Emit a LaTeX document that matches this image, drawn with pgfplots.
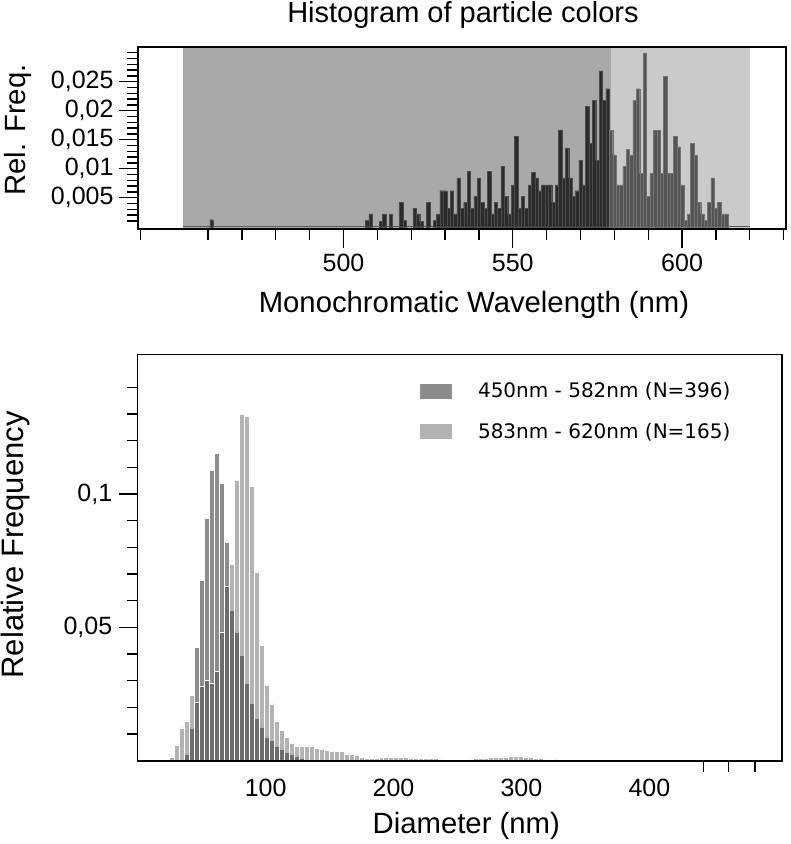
\documentclass[border=0pt]{standalone}
\usepackage{fontspec}
\setmainfont{Liberation Sans}
\newfontfamily\legfont{DejaVu Sans}
\usepackage{pgfplots}
\usepackage{pgfplotstable}
\pgfplotsset{compat=1.18}
\definecolor{bgdark}{HTML}{A9A9A9}
\definecolor{bglight}{HTML}{CACACA}
\definecolor{bardark}{HTML}{2B2B2B}
\definecolor{barlight}{HTML}{555555}

\pgfplotstableread{
nm v
461 0.0012
507 0.0011
508 0.0022
511 0.0009
512 0.0022
514 0.0022
517 0.0042
518 0.0011
521 0.0032
522 0.0022
523 0.0009
525 0.0042
527 0.0011
528 0.0022
529 0.0062
530 0.0062
531 0.0032
532 0.0062
533 0.0022
534 0.0084
535 0.0032
536 0.0042
537 0.0095
538 0.0032
539 0.0052
540 0.0084
541 0.0042
542 0.0032
543 0.0095
544 0.0022
545 0.0042
546 0.0032
547 0.0104
548 0.0052
549 0.0022
550 0.0072
551 0.0156
552 0.0032
553 0.0052
554 0.0032
555 0.0072
556 0.0094
557 0.0084
558 0.0062
559 0.0072
560 0.0072
561 0.0072
562 0.0042
563 0.0072
564 0.0167
565 0.0084
566 0.0136
567 0.0084
568 0.0052
569 0.0062
570 0.0114
571 0.0072
572 0.0208
573 0.0144
574 0.0218
575 0.0114
576 0.0269
577 0.0218
578 0.0238
}\topdark

\pgfplotstableread{
nm v
579 0.0166
580 0.0124
581 0.0072
582 0.0072
583 0.0104
584 0.0134
585 0.0124
586 0.0218
587 0.0238
588 0.0092
589 0.0300
590 0.0052
591 0.0092
592 0.0166
593 0.0166
594 0.0092
595 0.0259
596 0.0092
597 0.0092
598 0.0156
599 0.0138
600 0.0072
601 0.0011
602 0.0022
603 0.0144
604 0.0124
605 0.0042
606 0.0022
607 0.0011
608 0.0042
609 0.0084
610 0.0032
611 0.0042
612 0.0022
613 0.0022
}\toplight

% bottom: A = 450-582 nm, B = 583-620 nm
\pgfplotstableread{
d A B
26.6 0.0000 0.0015
30.5 0.0000 0.0060
34.4 0.0000 0.0123
38.3 0.0026 0.0150
42.2 0.0121 0.0245
46.1 0.0425 0.0221
50.0 0.0677 0.0281
53.9 0.0908 0.0302
57.8 0.1090 0.0290
61.7 0.1152 0.0334
65.6 0.1040 0.0483
69.5 0.0818 0.0656
73.4 0.0565 0.0737
77.3 0.0483 0.1050
81.2 0.0396 0.1300
85.1 0.0290 0.1290
89.0 0.0215 0.1030
92.9 0.0160 0.0708
96.8 0.0127 0.0432
100.7 0.0090 0.0282
104.6 0.0076 0.0213
108.5 0.0054 0.0150
112.4 0.0045 0.0114
116.3 0.0032 0.0088
120.2 0.0026 0.0064
124.1 0.0016 0.0056
128.0 0.0010 0.0056
131.9 0.0005 0.0056
135.8 0.0003 0.0056
139.7 0.0002 0.0047
143.6 0.0000 0.0045
147.5 0.0000 0.0040
151.4 0.0000 0.0035
155.3 0.0000 0.0035
159.2 0.0000 0.0035
163.1 0.0000 0.0026
167.0 0.0000 0.0026
170.9 0.0000 0.0022
174.8 0.0000 0.0012
178.7 0.0000 0.0010
182.6 0.0000 0.0010
186.5 0.0000 0.0010
190.4 0.0000 0.0012
194.3 0.0000 0.0012
198.2 0.0000 0.0013
202.1 0.0000 0.0013
206.0 0.0000 0.0012
209.9 0.0000 0.0012
213.8 0.0000 0.0011
217.7 0.0000 0.0010
221.6 0.0000 0.0009
225.5 0.0000 0.0009
229.4 0.0000 0.0008
233.3 0.0000 0.0008
237.2 0.0000 0.0007
241.1 0.0000 0.0006
245.0 0.0000 0.0005
248.9 0.0000 0.0005
252.8 0.0000 0.0005
256.7 0.0000 0.0006
260.6 0.0000 0.0007
264.5 0.0000 0.0008
268.4 0.0000 0.0010
272.3 0.0000 0.0011
276.2 0.0000 0.0012
280.1 0.0000 0.0013
284.0 0.0000 0.0014
287.9 0.0000 0.0015
291.8 0.0000 0.0016
295.7 0.0000 0.0016
299.6 0.0000 0.0016
303.5 0.0000 0.0015
307.4 0.0000 0.0013
311.3 0.0000 0.0011
315.2 0.0000 0.0009
319.1 0.0000 0.0007
323.0 0.0000 0.0005
326.9 0.0000 0.0003
330.8 0.0000 0.0002
}\bottomdata

\pgfplotsset{
  myax/.style={
    scale only axis,
    axis line style={line width=1.4bp},
    every tick/.style={line width=1.4bp, black},
    tick align=outside, tick pos=left,
    ticklabel style={font=\fontsize{25bp}{30bp}\selectfont},
    label style={font=\fontsize{29.3bp}{34bp}\selectfont},
    scaled ticks=false,
  }
}

\begin{document}
\begin{tikzpicture}
\path[use as bounding box] (0bp,0bp) rectangle (791bp,844bp);
% ---------------- top ----------------
\begin{axis}[myax,
  at={(138bp,615bp)}, anchor=south west,
  width=648bp, height=182bp,
  major tick length=19bp, minor tick length=11bp,
  xmin=439.3, xmax=630.7, ymin=-0.0004, ymax=0.031,
  xtick={500,550,600}, xticklabels={500,550,600},
  xticklabel shift=3bp,
  yticklabel shift=2bp,
  minor xtick={440,460,470,480,490,510,520,530,540,560,570,580,590,610,620,630},
  ytick={0.005,0.01,0.015,0.02,0.025},
  yticklabels={{0,005},{0,01},{0,015},{0,02},{0,025}},
  minor ytick={0.001,0.002,0.003,0.004,0.006,0.007,0.008,0.009,0.011,0.012,0.013,0.014,0.016,0.017,0.018,0.019,0.021,0.022,0.023,0.024,0.026,0.027,0.028,0.029,0.030},
  title={Histogram of particle colors},
  title style={at={(axis description cs:0.5015,1.10)}, anchor=base, font=\fontsize{29bp}{34bp}\selectfont},
  xlabel={Monochromatic Wavelength (nm)},
  xlabel style={at={(axis description cs:0.5185,-0.4615)}, anchor=base},
  ylabel={Rel. Freq.},
  ylabel style={at={(axis description cs:-0.185,0.544)}, anchor=center},
  axis on top,
]
\addplot[fill=bgdark, draw=none] coordinates {(452.7,-0.0004) (452.7,0.031) (579,0.031) (579,-0.0004)} -- cycle;
\addplot[fill=bglight, draw=none] coordinates {(579,-0.0004) (579,0.031) (620.2,0.031) (620.2,-0.0004)} -- cycle;
\addplot[draw=black!65, line width=0.8bp] coordinates {(452.7,0) (620.2,0)};
\addplot[ybar, bar width=1, bar shift=0pt, fill=bardark, draw=black!70, line width=0.3bp] table[x=nm, y=v] {\topdark};
\addplot[ybar, bar width=1, bar shift=0pt, fill=barlight, draw=black!55, line width=0.3bp] table[x=nm, y=v] {\toplight};
\end{axis}
% ---------------- bottom ----------------
\begin{axis}[myax,
  at={(137.7bp,83.2bp)}, anchor=south west,
  width=644.3bp, height=406.5bp,
  major tick length=11bp,
  xmin=0, xmax=503.7, ymin=0, ymax=0.1524,
  xtick={442.5,462,482.5}, xticklabels={},
  extra x ticks={100,200,300,400},
  extra x tick labels={100,200,300,400},
  extra x tick style={major tick length=0bp},
  xticklabel shift=15bp,
  yticklabel shift=3bp,
  ytick={0.01,0.02,0.03,0.04,0.06,0.07,0.08,0.09,0.11,0.12,0.13,0.14},
  yticklabels={},
  extra y ticks={0.05,0.1},
  extra y tick labels={{0,05},{0,1}},
  extra y tick style={major tick length=19bp},
  xlabel={Diameter (nm)},
  xlabel style={at={(axis description cs:0.510,-0.18)}, anchor=base},
  ylabel={Relative Frequency},
  ylabel style={at={(axis description cs:-0.19,0.531)}, anchor=center, font=\fontsize{31bp}{36bp}\selectfont},
  legend style={draw=none, fill=none, at={(0.4356,0.936)}, anchor=north west,
    font=\legfont\fontsize{20bp}{24bp}\selectfont, row sep=20bp, column sep=24bp,
    legend cell align=left, inner sep=0pt},
  legend image code/.code={\fill[#1] (0bp,-8bp) rectangle (33bp,8bp);},
  axis on top,
]
\addplot[ybar, bar width=3.9, bar shift=0pt, fill=black!45, draw=white, line width=0.5bp] table[x=d, y=A] {\bottomdata};
\addlegendentry{450nm - 582nm (N=396)}
\addplot[ybar, bar width=3.9, bar shift=0pt, fill=black!75, fill opacity=0.4, draw=white, line width=0.5bp] table[x=d, y=B] {\bottomdata};
\addlegendentry{583nm - 620nm (N=165)}
\end{axis}
\end{tikzpicture}
\end{document}
